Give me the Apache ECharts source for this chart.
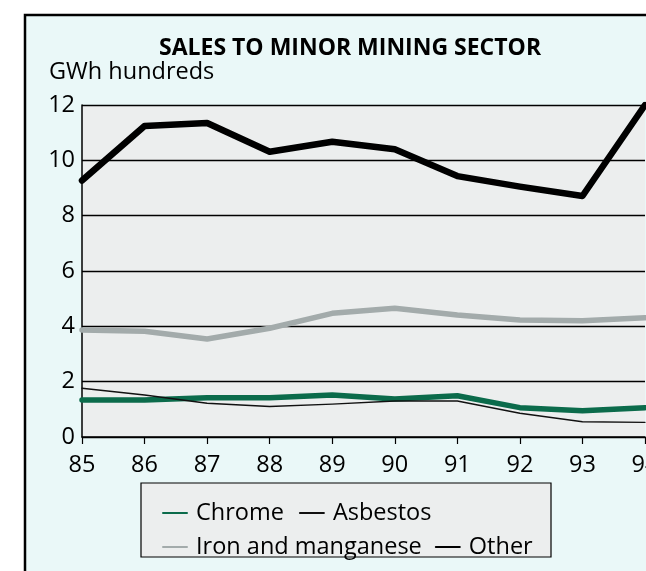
<!DOCTYPE html>
<html><head><meta charset="utf-8">
<script src="https://cdn.jsdelivr.net/npm/echarts@6/dist/echarts.min.js"></script>
<style>html,body{margin:0;padding:0;background:#fff;overflow:hidden}#c{width:646px;height:571px}</style>
</head><body><div id="c"></div>
<script>
const years = ['85','86','87','88','89','90','91','92','93','94'];
const chrome = [1.34,1.34,1.42,1.42,1.52,1.37,1.49,1.06,0.95,1.06];
const asbestos = [1.76,1.52,1.22,1.10,1.19,1.30,1.30,0.86,0.55,0.53];
const ironManganese = [3.87,3.82,3.54,3.93,4.47,4.65,4.41,4.23,4.20,4.31];
const other = [9.27,11.24,11.35,10.31,10.67,10.40,9.43,9.05,8.71,12.0];
const yTicks = [0,2,4,6,8,10,12];

const FONT = 'Open Sans';
const chart = echarts.init(document.getElementById('c'));
const mk = (name, data, color, width) => ({
  name, type:'line', data, symbol:'none', smooth:false,
  lineStyle:{color, width, join:'round', cap:'round'}, itemStyle:{color},
  z: 3
});
chart.setOption({
  backgroundColor:'#ffffff',
  animation:false,
  textStyle:{fontFamily:FONT},
  title:{text:'SALES TO MINOR MINING SECTOR', left:154, top:32,
    textStyle:{fontFamily:FONT, fontSize:23, fontWeight:'bold', color:'#000'}},
  graphic:[
    {type:'rect', z:-10, shape:{x:25, y:15, width:640, height:580},
      style:{fill:'#eaf8f8', stroke:'#000', lineWidth:2.5}},
    {type:'rect', z:-5, shape:{x:82, y:105, width:563, height:332},
      style:{fill:'#eceeee'}},
    {type:'rect', z:-5, shape:{x:141, y:483, width:410, height:74},
      style:{fill:'#eceeee', stroke:'#000', lineWidth:1.2}},
    {type:'text', left:49, top:60, style:{text:'GWh hundreds', font:'23.5px "Open Sans"', fill:'#000'}}
  ],
  grid:{left:82, right:1, top:105, bottom:134, containLabel:false, outerBoundsMode:'none'},
  xAxis:{type:'category', data:years, boundaryGap:false,
    axisLine:{show:true, lineStyle:{color:'#000', width:1.5}},
    axisTick:{show:true, length:7, lineStyle:{color:'#000', width:1.2}},
    axisLabel:{color:'#000', fontSize:23.5, fontFamily:FONT, margin:16},
    splitLine:{show:false}},
  yAxis:{type:'value', min:yTicks[0], max:yTicks[yTicks.length-1], interval:2,
    axisLine:{show:true, lineStyle:{color:'#000', width:1.5}},
    axisTick:{show:false},
    axisLabel:{color:'#000', fontSize:23.5, fontFamily:FONT, margin:7},
    splitLine:{show:true, lineStyle:{color:'#000', width:1.3}}},
  legend:[
    {data:['Chrome','Asbestos'], left:157, top:496, itemWidth:24, itemHeight:14, itemGap:15,
      itemStyle:{opacity:0},
      textStyle:{fontSize:23.5, fontFamily:FONT, color:'#000', padding:[0,0,0,4]}, selectedMode:false},
    {data:['Iron and manganese','Other'], left:157, top:530, itemWidth:24, itemHeight:14, itemGap:13,
      itemStyle:{opacity:0},
      textStyle:{fontSize:23.5, fontFamily:FONT, color:'#000', padding:[0,0,0,4]}, selectedMode:false}
  ],
  series:[
    mk('Chrome', chrome, '#0b6b4b', 5.5),
    mk('Asbestos', asbestos, '#111', 1.4),
    mk('Iron and manganese', ironManganese, '#a3abab', 5.5),
    mk('Other', other, '#000', 6.5)
  ]
});
</script></body></html>
